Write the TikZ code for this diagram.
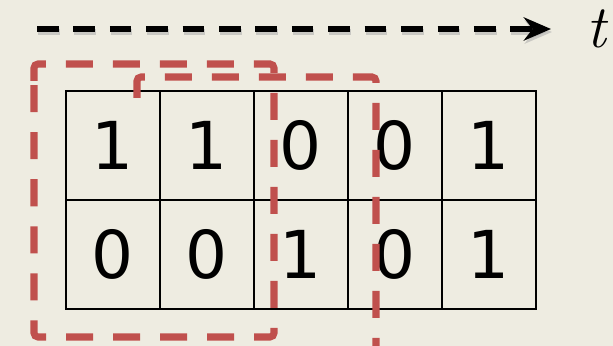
\documentclass[tikz,border=0pt]{standalone}
\usepackage{fontspec}
\setsansfont{DejaVu Sans}
\usetikzlibrary{arrows.meta}
\definecolor{paper}{HTML}{EEECE1}
\definecolor{winred}{HTML}{C0504D}

\begin{document}
\begin{tikzpicture}[x=0.025cm,y=-0.025cm,
  >={Stealth[length=0.68cm,width=0.58cm,inset=0.22cm]},
  cell/.style={draw,line width=1.8pt,minimum width=2.35cm,minimum height=2.725cm,
    inner sep=0pt,outer sep=0pt,font=\sffamily\fontsize{47}{47}\selectfont},
  window/.style={draw=winred,line width=5pt,dash pattern=on 0.675cm off 0.5cm,
    rounded corners=0.1cm},
  timeline/.style={->,line width=3.6pt,dash pattern=on 0.54cm off 0.37cm}]
\useasboundingbox[fill=paper] (0,0) rectangle (613,346);
\clip (0,0) rectangle (613,346);

\coordinate (tstart) at (37,29);
\coordinate (tend) at (551,29);
\node[font=\rmfamily\itshape\fontsize{43}{43}\selectfont,inner sep=0pt]
  (tlabel) at (596,29) {t};
\draw[timeline,black!35,opacity=0.5] ([shift={(1,3)}]tstart) -- ([shift={(1,3)}]tend);
\draw[timeline] (tstart) -- (tend);

\foreach \v [count=\i] in {1,1,0,0,1}
  \node[cell] (top\i) at ({19+94*\i},145.5) {\v};
\foreach \v [count=\i] in {0,0,1,0,1}
  \node[cell] (bot\i) at ({19+94*\i},254.5) {\v};

\draw[window] (34,85) -- (34,64) -- (274,64) -- (274,337) -- (34,337) -- cycle;
\draw[window] (137,98) -- (137,77) -- (376,77) -- (376,380);
\end{tikzpicture}
\end{document}
